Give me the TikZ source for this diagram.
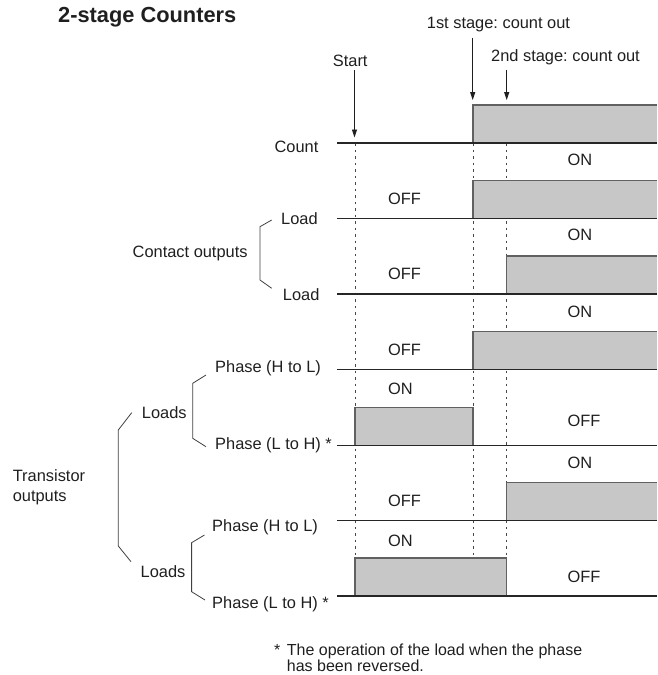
\documentclass[tikz,border=0pt]{standalone}
\usepackage{fontspec}
\setmainfont{Liberation Sans}
\usetikzlibrary{arrows.meta}
\frenchspacing
\begin{document}
\begin{tikzpicture}[x=1pt,y=-1pt,
  lbl/.style={inner sep=0pt, anchor=base west, font=\fontsize{16.4}{16.5}\selectfont, text=black!88},
  foot/.style={lbl, font=\fontsize{16}{16.5}\selectfont},
  ttl/.style={inner sep=0pt, anchor=base west, font=\fontsize{21.8}{22}\selectfont\bfseries, text=black!88},
  sig/.style={draw=black!85, line width=1.1pt},
  hifill/.style={fill=black!22},
  hiedge/.style={draw=black!62, line width=1.2pt},
  guide/.style={draw=black!72, line width=0.9pt, dash pattern=on 2.5pt off 4pt},
  arr/.style={draw=black!88, line width=0.9pt, -{Triangle[length=8pt,width=5pt]}},
  brk/.style={draw=black!75, line width=0.8pt}]
\useasboundingbox (0,0) rectangle (657,675);

% ---- titles and event labels
\node[ttl] (title) at (58,22.7) {2-stage Counters};
\node[lbl] (first) at (426.7,28.3) {1st stage: count out};
\node[lbl] (second) at (491,61) {2nd stage: count out};
\node[lbl] (start) at (332.7,66) {Start};

% ---- guide lines (dotted)
\coordinate (gs0) at (355,143);   \coordinate (gs1) at (355,596);
\coordinate (g10) at (473,143);   \coordinate (g11) at (473,596);
\coordinate (g20) at (506.5,143); \coordinate (g21) at (506.5,596);
\draw[guide] (gs0) -- (gs1);
\draw[guide] (g10) -- (g11);
\draw[guide] (g20) -- (g21);

% ---- arrows
\coordinate (startA) at (354.5,70);  \coordinate (startT) at (354.5,137.5);
\coordinate (firstA) at (472.7,37.7); \coordinate (firstT) at (472.7,100);
\coordinate (secondA) at (506.7,70); \coordinate (secondT) at (506.7,100);
\draw[arr] (startA) -- (startT);
\draw[arr] (firstA) -- (firstT);
\draw[arr] (secondA) -- (secondT);

% ---- high levels (grey boxes)
% row 0 Count
\fill[hifill] (473,105) rectangle (657,143);
\draw[hiedge] (473,143) -- (473,105) -- (657,105);
% row 1 Load
\fill[hifill] (473,180.5) rectangle (657,218.5);
\draw[hiedge] (473,218.5) -- (473,180.5) -- (657,180.5);
% row 2 Load
\fill[hifill] (506.5,256) rectangle (657,294);
\draw[hiedge] (506.5,294) -- (506.5,256) -- (657,256);
% row 3 Phase (H to L)
\fill[hifill] (473,331.5) rectangle (657,369.5);
\draw[hiedge] (473,369.5) -- (473,331.5) -- (657,331.5);
% row 4 Phase (L to H)
\fill[hifill] (355,407.5) rectangle (473,445.5);
\draw[hiedge] (355,445.5) -- (355,407.5) -- (473,407.5) -- (473,445.5);
% row 5 Phase (H to L)
\fill[hifill] (506.5,482.5) rectangle (657,520.5);
\draw[hiedge] (506.5,520.5) -- (506.5,482.5) -- (657,482.5);
% row 6 Phase (L to H)
\fill[hifill] (355,558) rectangle (506.5,596);
\draw[hiedge] (355,596) -- (355,558) -- (506.5,558) -- (506.5,596);

% ---- base lines
\draw[sig] (337,143) -- (657,143);
\draw[sig] (337,218.5) -- (657,218.5);
\draw[sig] (337,294) -- (657,294);
\draw[sig] (337,369.5) -- (657,369.5);
\draw[sig] (337,445.5) -- (657,445.5);
\draw[sig] (337,520.5) -- (657,520.5);
\draw[sig] (337,596) -- (657,596);

% ---- ON / OFF labels
\node[lbl] (on0)  at (567.5,165)   {ON};
\node[lbl] (off1) at (388,204)     {OFF};
\node[lbl] (on1)  at (567.5,240.7) {ON};
\node[lbl] (off2) at (388,279.3)   {OFF};
\node[lbl] (on2)  at (567.5,317.3) {ON};
\node[lbl] (off3) at (388,355)     {OFF};
\node[lbl] (on3)  at (388,394)     {ON};
\node[lbl] (off4) at (567.5,426.7) {OFF};
\node[lbl] (on4)  at (567.5,468.3) {ON};
\node[lbl] (off5) at (388,506)     {OFF};
\node[lbl] (on5)  at (388,546)     {ON};
\node[lbl] (off6) at (567.5,582.7) {OFF};

% ---- left labels
\node[lbl] (count) at (274.4,152.7) {Count};
\node[lbl] (load1) at (281,224)     {Load};
\node[lbl] (contact) at (132.5,257.3) {Contact outputs};
\node[lbl] (load2) at (282.7,300)   {Load};
\node[lbl] (phA) at (215,372.7)     {Phase (H to L)};
\node[lbl] (loadsA) at (141.7,418.3) {Loads};
\node[lbl] (phB) at (215,449.3)     {Phase (L to H) *};
\node[lbl] (trans1) at (12.6,481.7) {Transistor};
\node[lbl] (trans2) at (12.6,501)   {outputs};
\node[lbl] (phC) at (212,531.7)     {Phase (H to L)};
\node[lbl] (loadsB) at (140.5,577.7) {Loads};
\node[lbl] (phD) at (212,608.3)     {Phase (L to H) *};

% ---- brackets
\coordinate (c1) at (271.7,220);  \coordinate (c2) at (260,226.7);
\coordinate (c3) at (260,280);    \coordinate (c4) at (271.7,288.3);
\draw[brk] (c1) -- (c2) -- (c3) -- (c4);
\coordinate (la1) at (206,375);   \coordinate (la2) at (192.7,383.3);
\coordinate (la3) at (192.7,438.3); \coordinate (la4) at (206,446.7);
\draw[brk] (la1) -- (la2) -- (la3) -- (la4);
\coordinate (lb1) at (204.5,535); \coordinate (lb2) at (191.6,542.7);
\coordinate (lb3) at (191.6,591.7); \coordinate (lb4) at (205,600);
\draw[brk] (lb1) -- (lb2) -- (lb3) -- (lb4);
\coordinate (t1) at (131.7,412.7); \coordinate (t2) at (118.3,430);
\coordinate (t3) at (118.3,546);   \coordinate (t4) at (131,561.7);
\draw[brk] (t1) -- (t2) -- (t3) -- (t4);

% ---- footnote
\node[foot] (star) at (274,655) {*};
\node[foot] (foot1) at (286.7,655) {The operation of the load when the phase};
\node[foot] (foot2) at (286.7,671.3) {has been reversed.};
\end{tikzpicture}
\end{document}
